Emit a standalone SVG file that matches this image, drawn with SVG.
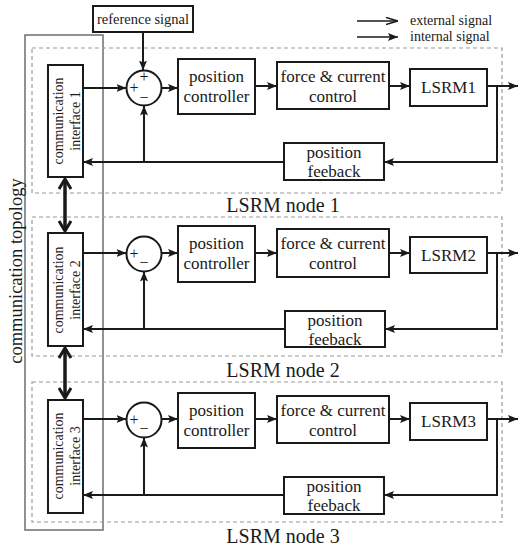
<svg xmlns="http://www.w3.org/2000/svg" width="523" height="550" viewBox="0 0 523 550">
<style>
text{fill:#1a1a1a;font-family:"Liberation Serif",serif !important}
.b{fill:#fff;stroke:#1a1a1a;stroke-width:2}
.d{fill:none;stroke:#9a9a9a;stroke-width:1.2;stroke-dasharray:4 3}
.a{fill:none;stroke:#1a1a1a;stroke-width:2;marker-end:url(#ah)}
.t{font-family:"Liberation Serif",serif !important;font-size:17px;text-anchor:middle}
.c{font-family:"Liberation Serif",serif !important;font-size:14px;text-anchor:middle}
.n{font-family:"Liberation Serif",serif !important;font-size:20px;text-anchor:middle}
.s{font-family:"Liberation Serif",serif !important;font-size:14.5px;text-anchor:middle}
.p{font-family:"Liberation Serif",serif !important;font-size:16px;text-anchor:middle}
.l{font-family:"Liberation Serif",serif !important;font-size:14px}
.v{font-family:"Liberation Serif",serif !important;font-size:18.5px;text-anchor:middle}
</style>
<defs>
<marker id="ah" viewBox="0 0 10 8" refX="10" refY="4" markerWidth="10" markerHeight="8" markerUnits="userSpaceOnUse" orient="auto"><path d="M0,0 L10,4 L0,8 L2,4 z" fill="#1a1a1a"/></marker>
<marker id="oh" viewBox="0 0 12 14" refX="11" refY="7" markerWidth="12" markerHeight="14" markerUnits="userSpaceOnUse" orient="auto-start-reverse"><path d="M1,1 L11,7 L1,13" fill="none" stroke="#1a1a1a" stroke-width="3"/></marker>
<marker id="ext" viewBox="0 0 12 8" refX="12" refY="4" markerWidth="12" markerHeight="8" markerUnits="userSpaceOnUse" orient="auto"><path d="M0,0.5 L12,4 L0,7.5" fill="none" stroke="#1a1a1a" stroke-width="1.5"/></marker>
</defs>
<g font-family="Liberation Serif, serif">
<g id="legend">
<line x1="357" y1="21" x2="398" y2="21" stroke="#1a1a1a" stroke-width="1.5" marker-end="url(#ext)"/>
<text class="l" x="410" y="25">external signal</text>
<line x1="357" y1="37" x2="398" y2="37" stroke="#1a1a1a" stroke-width="1.5" marker-end="url(#ah)"/>
<text class="l" x="410" y="41">internal signal</text>
</g>

<g id="topology">
<rect x="25" y="35" width="78" height="495" fill="none" stroke="#6e6e6e" stroke-width="1.5"/>
<text class="v" transform="translate(22,271) rotate(-90)">communication topology</text>
</g>

<g id="node1-frame"><rect class="d" x="32" y="48" width="470" height="145"/><text class="n" x="283" y="212">LSRM node 1</text></g>
<g id="node2-frame"><rect class="d" x="32" y="217" width="470" height="139"/><text class="n" x="283" y="377">LSRM node 2</text></g>
<g id="node3-frame"><rect class="d" x="32" y="382" width="470" height="140"/><text class="n" x="283" y="543">LSRM node 3</text></g>

<g id="reference-signal"><rect class="b" x="93" y="6" width="100" height="26"/><text class="s" x="143" y="24">reference signal</text></g>

<g id="ci1"><rect class="b" x="48" y="65" width="35" height="112"/>
<text class="c" transform="translate(63,121) rotate(-90)">communication</text>
<text class="c" transform="translate(80,121) rotate(-90)">interface 1</text></g>
<g id="ci2"><rect class="b" x="48" y="233" width="35" height="113"/>
<text class="c" transform="translate(63,290) rotate(-90)">communication</text>
<text class="c" transform="translate(80,290) rotate(-90)">interface 2</text></g>
<g id="ci3"><rect class="b" x="48" y="400" width="35" height="113"/>
<text class="c" transform="translate(63,456) rotate(-90)">communication</text>
<text class="c" transform="translate(80,456) rotate(-90)">interface 3</text></g>

<g id="sum1"><circle class="b" cx="144" cy="88" r="17.5"/>
<text class="p" x="144" y="82">+</text>
<text class="p" x="134" y="93">+</text>
<text class="p" x="144" y="103">−</text></g>
<g id="sum2"><circle class="b" cx="144" cy="254" r="17.5"/>
<text class="p" x="134" y="259">+</text>
<text class="p" x="144" y="268">−</text></g>
<g id="sum3"><circle class="b" cx="144" cy="420" r="17.5"/>
<text class="p" x="134" y="425">+</text>
<text class="p" x="144" y="434">−</text></g>

<g id="pc1"><rect class="b" x="178" y="59" width="77" height="55"/><text class="t" x="216.5" y="82">position</text><text class="t" x="216.5" y="102">controller</text></g>
<g id="pc2"><rect class="b" x="178" y="226" width="77" height="56"/><text class="t" x="216.5" y="249">position</text><text class="t" x="216.5" y="269">controller</text></g>
<g id="pc3"><rect class="b" x="178" y="393" width="77" height="55"/><text class="t" x="216.5" y="416">position</text><text class="t" x="216.5" y="436">controller</text></g>

<g id="fc1"><rect class="b" x="277" y="62" width="112" height="47"/><text class="t" x="333" y="82">force &amp; current</text><text class="t" x="333" y="102">control</text></g>
<g id="fc2"><rect class="b" x="277" y="229" width="112" height="48"/><text class="t" x="333" y="249">force &amp; current</text><text class="t" x="333" y="269">control</text></g>
<g id="fc3"><rect class="b" x="277" y="396" width="112" height="47"/><text class="t" x="333" y="416">force &amp; current</text><text class="t" x="333" y="436">control</text></g>

<g id="lsrm1"><rect class="b" x="410" y="69" width="77" height="37"/><text class="t" x="448.5" y="93">LSRM1</text></g>
<g id="lsrm2"><rect class="b" x="410" y="237" width="77" height="36"/><text class="t" x="448.5" y="261">LSRM2</text></g>
<g id="lsrm3"><rect class="b" x="410" y="403" width="77" height="37"/><text class="t" x="448.5" y="427">LSRM3</text></g>

<g id="pf1"><rect class="b" x="284" y="143" width="100" height="37"/><text class="t" x="334" y="158">position</text><text class="t" x="334" y="177">feeback</text></g>
<g id="pf2"><rect class="b" x="285" y="311" width="100" height="36"/><text class="t" x="335" y="326">position</text><text class="t" x="335" y="345">feeback</text></g>
<g id="pf3"><rect class="b" x="284" y="477" width="100" height="37"/><text class="t" x="334" y="492">position</text><text class="t" x="334" y="511">feeback</text></g>

<g id="connectors">
<line class="a" x1="143" y1="32" x2="143" y2="70.5"/>
<line class="a" x1="83" y1="88" x2="126.5" y2="88"/>
<line class="a" x1="161.5" y1="88" x2="178" y2="88"/>
<line class="a" x1="255" y1="86" x2="277" y2="86"/>
<line class="a" x1="389" y1="86" x2="410" y2="86"/>
<line class="a" x1="487" y1="86" x2="518" y2="86"/>
<polyline class="a" points="497,86 497,162 384,162"/>
<line class="a" x1="284" y1="162" x2="83" y2="162"/>
<line class="a" x1="144" y1="162" x2="144" y2="105.5"/>
<line class="a" x1="83" y1="253" x2="126.5" y2="253"/>
<line class="a" x1="161.5" y1="253" x2="178" y2="253"/>
<line class="a" x1="255" y1="253" x2="277" y2="253"/>
<line class="a" x1="389" y1="253" x2="410" y2="253"/>
<line class="a" x1="487" y1="253" x2="518" y2="253"/>
<polyline class="a" points="497,253 497,329 385,329"/>
<line class="a" x1="285" y1="329" x2="83" y2="329"/>
<line class="a" x1="144" y1="329" x2="144" y2="271.5"/>
<line class="a" x1="83" y1="419" x2="126.5" y2="419"/>
<line class="a" x1="161.5" y1="419" x2="178" y2="419"/>
<line class="a" x1="255" y1="419" x2="277" y2="419"/>
<line class="a" x1="389" y1="419" x2="410" y2="419"/>
<line class="a" x1="487" y1="419" x2="518" y2="419"/>
<polyline class="a" points="497,419 497,495 384,495"/>
<line class="a" x1="284" y1="495" x2="83" y2="495"/>
<line class="a" x1="144" y1="495" x2="144" y2="437.5"/>
<line x1="65" y1="179" x2="65" y2="231" stroke="#1a1a1a" stroke-width="3.5" marker-start="url(#oh)" marker-end="url(#oh)"/>
<line x1="65" y1="348" x2="65" y2="398" stroke="#1a1a1a" stroke-width="3.5" marker-start="url(#oh)" marker-end="url(#oh)"/>
</g>
</g>
</svg>
